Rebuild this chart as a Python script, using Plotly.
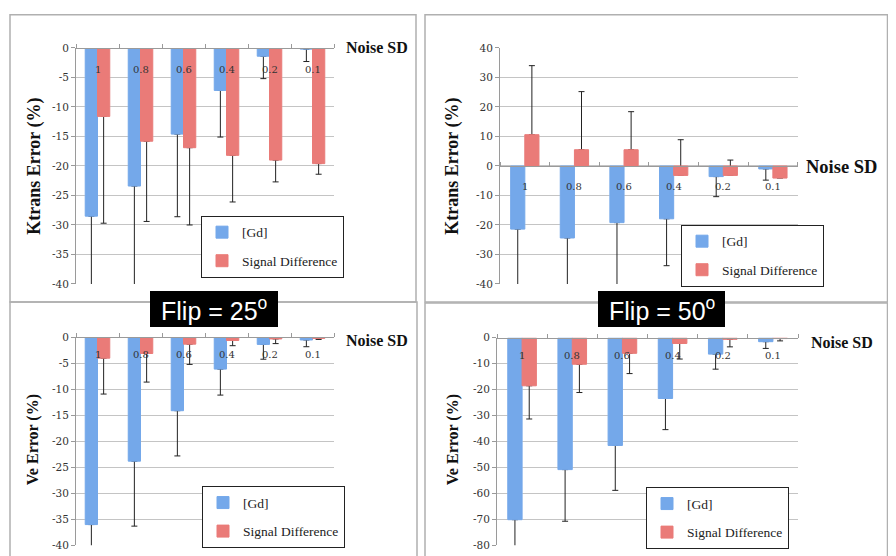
import plotly.graph_objects as go

# ---------------- data ----------------
categories = ["1", "0.8", "0.6", "0.4", "0.2", "0.1"]
series_names = ["[Gd]", "Signal Difference"]

# Ktrans error, flip 25
kt25_gd = [-28.5, -23.4, -14.6, -7.2, -1.4, -0.2]
kt25_gd_err = [16.0, 18.0, 14.0, 7.9, 3.8, 2.1]          # downward
kt25_sd = [-11.6, -15.8, -16.9, -18.2, -19.0, -19.6]
kt25_sd_err = [18.1, 13.6, 13.1, 7.9, 3.7, 1.8]          # downward

# Ktrans error, flip 50
kt50_gd = [-21.4, -24.4, -19.2, -17.9, -3.6, -1.0]
kt50_gd_err = [22.0, 20.0, 24.0, 15.9, 6.8, 3.8]         # downward
kt50_sd = [10.6, 5.5, 5.5, -3.2, -3.2, -4.1]
kt50_sd_err = [23.4, 19.7, 12.9, 12.1, 5.2, 3.4]         # upward

# Ve error, flip 25
ve25_gd = [-36.0, -23.8, -14.1, -6.1, -1.35, -0.5]
ve25_gd_err = [8.0, 12.5, 8.7, 5.0, 2.85, 1.3]           # downward
ve25_sd = [-4.0, -3.1, -1.3, -0.6, -0.3, -0.2]
ve25_sd_err = [6.9, 5.5, 3.9, 1.0, 0.9, 0.2]             # downward

# Ve error, flip 50
ve50_gd = [-70.1, -50.8, -41.5, -23.4, -6.3, -1.5]
ve50_gd_err = [14.0, 19.9, 17.3, 12.0, 5.8, 2.6]         # downward
ve50_sd = [-18.5, -10.2, -6.0, -2.2, -0.6, -0.3]
ve50_sd_err = [12.8, 10.9, 7.8, 6.0, 2.9, 0.9]           # downward

kt25_ticks = [0, -5, -10, -15, -20, -25, -30, -35, -40]
kt50_ticks = [40, 30, 20, 10, 0, -10, -20, -30, -40]
ve25_ticks = [0, -5, -10, -15, -20, -25, -30, -35, -40]
ve50_ticks = [0, -10, -20, -30, -40, -50, -60, -70, -80]

flip_labels = ["Flip = 25<sup>o</sup>", "Flip = 50<sup>o</sup>"]
axis_titles = ["Ktrans Error (%)", "Ve Error (%)"]
noise_label = "Noise SD"

# ---------------- layout helpers ----------------
# page placement of the figure (body margin etc.), measured from earlier renders
FW, FH = 880, 556
X_OFF = 8
Y_OFF, Y_SCALE = 14.4, 0.977


def px(x):
    return (x - X_OFF) / FW


def py(y):
    fy = (y - Y_OFF) / Y_SCALE
    fy = max(fy, 0.75)
    return 1 - fy / FH


BLUE = "#74a8ea"
RED = "#ea7b78"
SERIF = "Liberation Serif"
TICKFONT = "DejaVu Serif"

panels = [
    dict(ax="", xdom=(76, 334), ydom=(48.3, 284), rng=(-40, 0), ticks=kt25_ticks,
         title=axis_titles[0], tsize=18, tpos=(35, 167), noise=(377, 48), nsize=16,
         leg=(201, 216), shift=22,
         gd=kt25_gd, gde=kt25_gd_err, gdup=False,
         sd=kt25_sd, sde=kt25_sd_err, sdup=False),
    dict(ax="2", xdom=(500, 797.7), ydom=(48.3, 284), rng=(-40, 40), ticks=kt50_ticks,
         title=axis_titles[0], tsize=18, tpos=(453, 167), noise=(841, 167), nsize=18.5,
         leg=(681, 225), shift=21,
         gd=kt50_gd, gde=kt50_gd_err, gdup=False,
         sd=kt50_sd, sde=kt50_sd_err, sdup=True),
    dict(ax="3", xdom=(76, 334), ydom=(337.3, 545), rng=(-40, 0), ticks=ve25_ticks,
         title=axis_titles[1], tsize=16, tpos=(33, 440), noise=(377, 340), nsize=16,
         leg=(202, 486), shift=17,
         gd=ve25_gd, gde=ve25_gd_err, gdup=False,
         sd=ve25_sd, sde=ve25_sd_err, sdup=False),
    dict(ax="4", xdom=(497, 798), ydom=(337.7, 545), rng=(-80, 0), ticks=ve50_ticks,
         title=axis_titles[1], tsize=16, tpos=(453, 440), noise=(842, 342), nsize=16,
         leg=(646, 487), shift=18,
         gd=ve50_gd, gde=ve50_gd_err, gdup=False,
         sd=ve50_sd, sde=ve50_sd_err, sdup=False),
]

fig = go.Figure()
annotations = []
shapes = []
layout_upd = {}


def err(vals, up):
    zeros = [0] * len(vals)
    if up:
        return dict(type="data", symmetric=False, array=vals, arrayminus=zeros,
                    color="#222222", thickness=1, width=3)
    return dict(type="data", symmetric=False, array=zeros, arrayminus=vals,
                color="#222222", thickness=1, width=3)


for i, p in enumerate(panels):
    xa = "x" + p["ax"]
    ya = "y" + p["ax"]
    legname = "legend" + p["ax"]
    # error bars drawn behind the visible bars
    for key, ekey, up, grp in [("gd", "gde", p["gdup"], "gd"), ("sd", "sde", p["sdup"], "sd")]:
        fig.add_trace(go.Bar(x=categories, y=p[key], xaxis=xa, yaxis=ya,
                             offsetgroup=grp, marker=dict(color="rgba(0,0,0,0)"),
                             error_y=err(p[ekey], up), showlegend=False,
                             hoverinfo="skip"))
    for key, grp, name, col in [("gd", "gd", series_names[0], BLUE),
                                ("sd", "sd", series_names[1], RED)]:
        fig.add_trace(go.Bar(x=categories, y=p[key], xaxis=xa, yaxis=ya,
                             offsetgroup=grp, name=name, legendgroup=name,
                             legend=legname,
                             marker=dict(color=col, line=dict(color=col, width=1))))

    lo, hi = p["rng"]
    y0p, y1p = py(p["ydom"][1]), py(p["ydom"][0])
    zero_pos = y0p + (y1p - y0p) * (0 - lo) / (hi - lo)
    xkey = "xaxis" + p["ax"]
    ykey = "yaxis" + p["ax"]
    layout_upd[xkey] = dict(domain=[px(p["xdom"][0]), px(p["xdom"][1])],
                            anchor="free", position=zero_pos, side="top",
                            type="category", showgrid=False, showline=True,
                            linecolor="#9a9a9a", linewidth=1, ticks="outside",
                            tickson="boundaries", ticklen=4, tickcolor="#9a9a9a",
                            showticklabels=False, fixedrange=True, zeroline=False)
    layout_upd[ykey] = dict(domain=[y0p, y1p], anchor=xa, range=[lo, hi],
                            tickvals=p["ticks"], ticktext=[str(t) for t in p["ticks"]],
                            showgrid=True, gridcolor="#c4c4c4", gridwidth=1,
                            showline=True, linecolor="#9a9a9a", linewidth=1,
                            ticks="outside", ticklen=4, tickcolor="#9a9a9a",
                            tickfont=dict(family=TICKFONT, size=10.5, color="#333333"),
                            zeroline=False, fixedrange=True)
    # category labels placed just under the zero line (x given as category index)
    for ci, c in enumerate(categories):
        annotations.append(dict(x=ci, y=0, xref=xa, yref=ya, text=c, showarrow=False,
                                xanchor="center", yanchor="middle",
                                yshift=-p["shift"],
                                font=dict(family=TICKFONT, size=10, color="#333333")))
    # axis title
    annotations.append(dict(x=px(p["tpos"][0]), y=py(p["tpos"][1]), xref="paper",
                            yref="paper", text="<b>" + p["title"] + "</b>",
                            textangle=-90, showarrow=False,
                            xanchor="center", yanchor="middle",
                            font=dict(family=SERIF, size=p["tsize"], color="#111111")))
    # Noise SD label
    annotations.append(dict(x=px(p["noise"][0]), y=py(p["noise"][1]), xref="paper",
                            yref="paper", text="<b>" + noise_label + "</b>",
                            showarrow=False, xanchor="center", yanchor="middle",
                            font=dict(family=SERIF, size=p["nsize"], color="#111111")))
    layout_upd[legname] = dict(x=px(p["leg"][0]), y=py(p["leg"][1]), xanchor="left",
                               yanchor="top", bgcolor="white", bordercolor="#222222",
                               borderwidth=1, tracegroupgap=8,
                               font=dict(family=SERIF, size=13.5, color="#222222"))

# panel borders
for (x0, y0, x1, y1) in [(10, 9, 416, 302), (425, 10, 887.5, 302),
                         (10, 302, 417, 580), (425, 303, 887.5, 580)]:
    shapes.append(dict(type="rect", xref="paper", yref="paper",
                       x0=px(x0), x1=px(x1), y0=py(y1), y1=py(y0),
                       line=dict(color="#b0b0b0", width=1.5), layer="above"))

# flip-angle boxes
for (x0, x1), lab in zip([(150, 278), (598, 725)], flip_labels):
    shapes.append(dict(type="rect", xref="paper", yref="paper",
                       x0=px(x0), x1=px(x1), y0=py(327), y1=py(291),
                       fillcolor="black", line=dict(color="black", width=0),
                       layer="above"))
    annotations.append(dict(x=px((x0 + x1) / 2), y=py(309), xref="paper", yref="paper",
                            text=lab, showarrow=False, xanchor="center", yanchor="middle",
                            font=dict(family="Liberation Sans", size=25, color="white")))

fig.update_layout(width=FW, height=FH, margin=dict(l=0, r=0, t=0, b=0),
                  paper_bgcolor="white", plot_bgcolor="white",
                  barmode="group", bargap=0.43, bargroupgap=0,
                  annotations=annotations, shapes=shapes, **layout_upd)

fig.write_html("out.html")
